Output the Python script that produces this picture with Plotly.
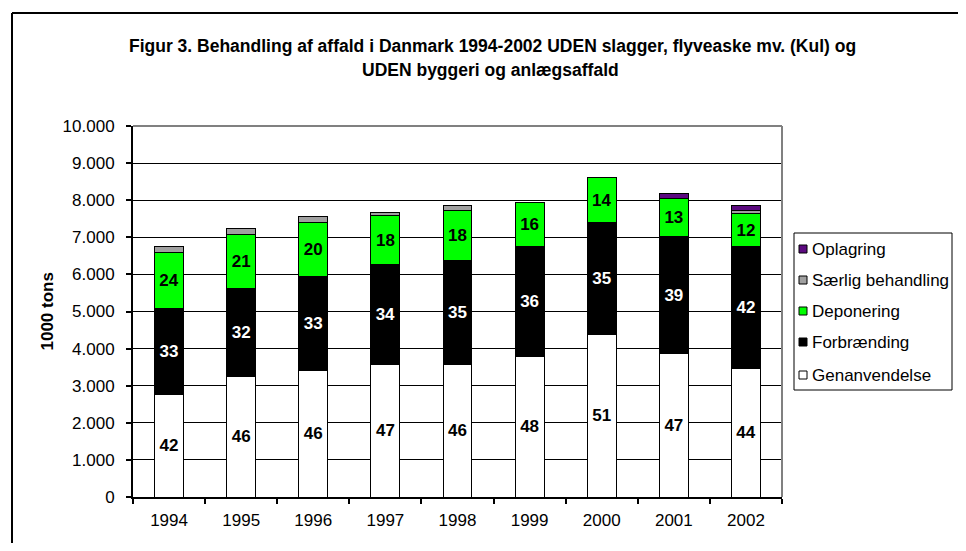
import plotly.graph_objects as go

years = ["1994", "1995", "1996", "1997", "1998", "1999", "2000", "2001", "2002"]
genanvendelse = [2770, 3250, 3420, 3585, 3580, 3780, 4390, 3855, 3470]
forbraending = [2300, 2365, 2515, 2690, 2790, 2965, 3000, 3160, 3280]
deponering = [1530, 1465, 1465, 1300, 1365, 1200, 1225, 1035, 880]
saerlig = [150, 150, 150, 100, 135, 0, 0, 0, 80]
oplagring = [0, 0, 0, 0, 0, 0, 0, 140, 155]

genanv_pct = [42, 46, 46, 47, 46, 48, 51, 47, 44]
forbr_pct = [33, 32, 33, 34, 35, 36, 35, 39, 42]
depon_pct = [24, 21, 20, 18, 18, 16, 14, 13, 12]

series_names = ["Genanvendelse", "Forbrænding", "Deponering", "Særlig behandling", "Oplagring"]
series_colors = ["#ffffff", "#000000", "#00ff00", "#a0a0a0", "#5c0a80"]
label_colors = ["#000000", "#ffffff", "#000000", None, None]

title_line1 = "Figur 3. Behandling af affald i Danmark 1994-2002 UDEN slagger, flyveaske mv. (Kul) og"
title_line2 = "UDEN byggeri og anlægsaffald"
y_title = "1000 tons"

FONT = "Liberation Sans, Arial, sans-serif"

values = [genanvendelse, forbraending, deponering, saerlig, oplagring]
labels = [genanv_pct, forbr_pct, depon_pct, None, None]

fig = go.Figure()
for name, vals, col, lbl, lcol in zip(series_names, values, series_colors, labels, label_colors):
    kw = {}
    if lbl is not None:
        kw = dict(
            text=[str(v) for v in lbl],
            textposition="inside",
            insidetextanchor="middle",
            textangle=0,
            textfont=dict(family=FONT, size=17, color=lcol, weight="bold"),
        )
    fig.add_trace(go.Bar(
        x=years, y=vals, name=name,
        marker=dict(color=col, line=dict(color="#000000", width=1)),
        hoverinfo="x+y+name",
        showlegend=False,
        **kw,
    ))

# the page body has an 8px margin: work in page pixels, convert to figure pixels
OFF = 8
W, H = 966 - 2 * OFF, 551 - 2 * OFF
L, R, T, B = 133 - OFF, 782 - OFF, 126 - OFF, 497 - OFF
pw, ph = R - L, B - T

def px(x):
    return (x - OFF - L) / pw

def py(y):
    return (B - (y - OFF)) / ph

shapes = []
# outer frame (top and left edges, extends past the picture)
shapes.append(dict(type="line", xref="paper", yref="paper", x0=px(12), x1=px(1000), y0=py(13), y1=py(13),
                   line=dict(color="#000000", width=2)))
shapes.append(dict(type="line", xref="paper", yref="paper", x0=px(12), x1=px(12), y0=py(13), y1=py(600),
                   line=dict(color="#000000", width=2)))
# gray plot border top/right
shapes.append(dict(type="line", xref="paper", yref="paper", x0=0, x1=1, y0=1, y1=1,
                   line=dict(color="#808080", width=2)))
shapes.append(dict(type="line", xref="paper", yref="paper", x0=1, x1=1, y0=0, y1=1,
                   line=dict(color="#808080", width=2)))

# manual legend
leg_left, leg_top, leg_right, leg_bottom = 794, 233, 952, 390
shapes.append(dict(type="rect", xref="paper", yref="paper", x0=px(leg_left), x1=px(leg_right),
                   y0=py(leg_bottom), y1=py(leg_top), line=dict(color="#000000", width=1),
                   fillcolor="#ffffff"))
annotations = []
legend_order = [4, 3, 2, 1, 0]
leg_ys = [249, 280, 311, 342, 375]
for idx, yy in zip(legend_order, leg_ys):
    shapes.append(dict(type="rect", xref="paper", yref="paper", x0=px(799), x1=px(807),
                       y0=py(yy + 4), y1=py(yy - 4), fillcolor=series_colors[idx],
                       line=dict(color="#000000", width=1)))
    annotations.append(dict(text=series_names[idx], xref="paper", yref="paper", x=px(810), y=py(yy),
                            xanchor="left", yanchor="middle", showarrow=False,
                            font=dict(family=FONT, size=17, color="#000000")))

annotations.append(dict(text=title_line1, xref="paper", yref="paper", x=px(492), y=py(46),
                        xanchor="center", yanchor="middle", showarrow=False,
                        font=dict(family=FONT, size=17.5, color="#000000", weight="bold")))
annotations.append(dict(text=title_line2, xref="paper", yref="paper", x=px(490), y=py(70),
                        xanchor="center", yanchor="middle", showarrow=False,
                        font=dict(family=FONT, size=17.5, color="#000000", weight="bold")))
annotations.append(dict(text=y_title, xref="paper", yref="paper", x=px(47), y=0.5,
                        xanchor="center", yanchor="middle", showarrow=False, textangle=-90,
                        font=dict(family=FONT, size=17, color="#000000", weight="bold")))

fig.update_layout(
    width=W, height=H,
    margin=dict(l=L, r=W - R, t=T, b=H - B, autoexpand=False),
    barmode="stack",
    bargap=0.6,
    separators=",.",
    plot_bgcolor="#ffffff",
    paper_bgcolor="#ffffff",
    font=dict(family=FONT, size=17, color="#000000"),
    showlegend=False,
    shapes=shapes,
    annotations=annotations,
    uniformtext=dict(minsize=17, mode="show"),
    xaxis=dict(
        type="category",
        showline=True, linecolor="#000000", linewidth=2,
        ticks="outside", ticklen=5, tickwidth=2, tickcolor="#000000",
        tickson="boundaries",
        showgrid=False,
        tickfont=dict(family=FONT, size=17, color="#000000"),
        ticklabelstandoff=7,
    ),
    yaxis=dict(
        range=[0, 10000], dtick=1000, tickformat=",d",
        showline=True, linecolor="#000000", linewidth=2,
        ticks="outside", ticklen=5, tickwidth=2, tickcolor="#000000",
        showgrid=True, gridcolor="#000000", gridwidth=1,
        zeroline=False,
        tickfont=dict(family=FONT, size=17, color="#000000"),
        ticklabelstandoff=8,
    ),
)

fig.write_html("out.html")
